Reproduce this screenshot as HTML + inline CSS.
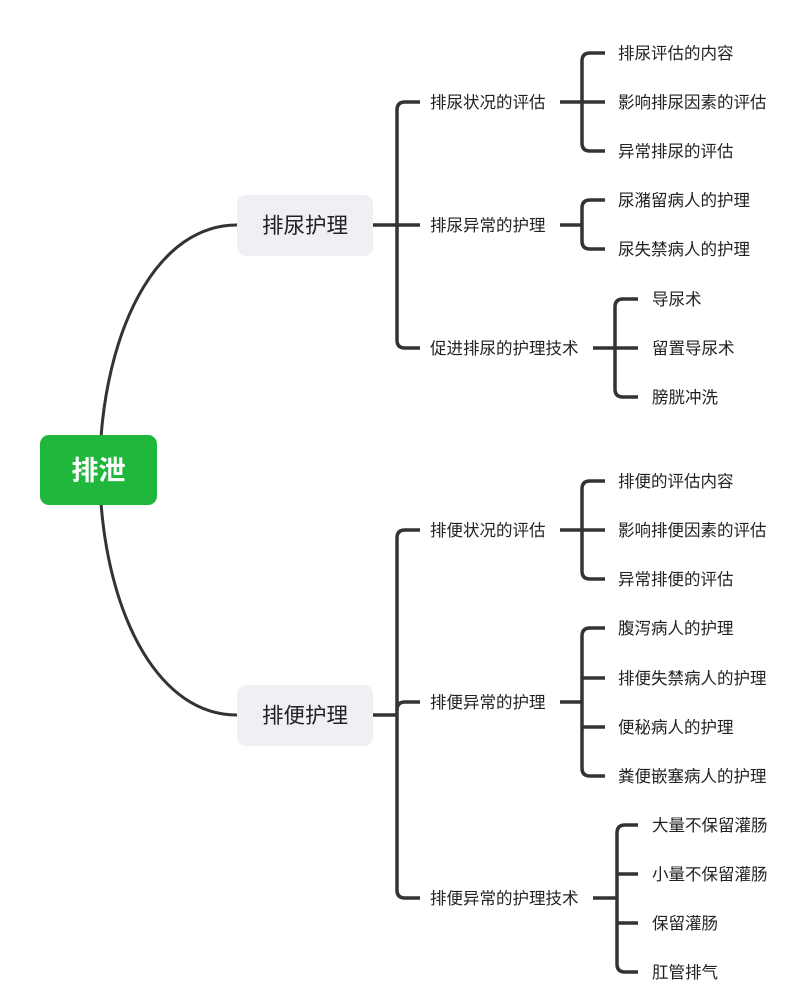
<!DOCTYPE html>
<html><head><meta charset="utf-8"><style>
html,body{margin:0;padding:0;background:#fff;}
svg{display:block;}
text{font-family:"Liberation Sans","Noto Sans CJK SC",sans-serif;fill:#222;}
</style></head><body>
<svg width="811" height="1006" viewBox="0 0 811 1006" xmlns="http://www.w3.org/2000/svg">
<g fill="none" stroke="#333" stroke-width="3.5" stroke-linecap="butt">
<path d="M101,437 C110,320 160,225 237,225" stroke-width="3"/>
<path d="M101,503 C110,620 160,715 237,715" stroke-width="3"/>
<path d="M373,225 H397"/>
<path d="M420,102 H405 Q397,102 397,110 V340 Q397,348 405,348 H420"/>
<path d="M397,225 H420"/>
<path d="M373,715 H397"/>
<path d="M420,530 H405 Q397,530 397,538 V890 Q397,898 405,898 H420"/>
<path d="M397,710 Q397,702 405,702 H420"/>
<path d="M560,102 H605"/>
<path d="M605,53 H590 Q582,53 582,61 V143 Q582,151 590,151 H605"/>
<path d="M560,225 H582"/>
<path d="M605,200 H590 Q582,200 582,208 V241 Q582,249 590,249 H605"/>
<path d="M593,348 H638"/>
<path d="M638,299 H623 Q615,299 615,307 V389 Q615,397 623,397 H638"/>
<path d="M560,530 H605"/>
<path d="M605,481 H590 Q582,481 582,489 V571 Q582,579 590,579 H605"/>
<path d="M560,702 H582"/>
<path d="M605,628 H590 Q582,628 582,636 V768 Q582,776 590,776 H605"/>
<path d="M582,678 H605"/>
<path d="M582,727 H605"/>
<path d="M593,898 H617"/>
<path d="M638,825 H625 Q617,825 617,833 V964 Q617,972 625,972 H638"/>
<path d="M617,874 H638"/>
<path d="M617,923 H638"/>
</g>
<rect x="40" y="435" width="117" height="70" rx="9" fill="#1fb83d"/>
<text x="98.5" y="480" text-anchor="middle" font-size="27" font-weight="bold" style="fill:#fff">排泄</text>
<rect x="237" y="195" width="136" height="61" rx="9" fill="#eef0f4"/>
<text x="305" y="233" text-anchor="middle" font-size="21.5">排尿护理</text>
<rect x="237" y="685" width="136" height="61" rx="9" fill="#eef0f4"/>
<text x="305" y="723" text-anchor="middle" font-size="21.5">排便护理</text>
<g font-size="16.5">
<text x="430" y="108">排尿状况的评估</text>
<text x="430" y="231">排尿异常的护理</text>
<text x="430" y="354">促进排尿的护理技术</text>
<text x="618" y="59">排尿评估的内容</text>
<text x="618" y="108">影响排尿因素的评估</text>
<text x="618" y="157">异常排尿的评估</text>
<text x="618" y="206">尿潴留病人的护理</text>
<text x="618" y="255">尿失禁病人的护理</text>
<text x="652" y="305">导尿术</text>
<text x="652" y="354">留置导尿术</text>
<text x="652" y="403">膀胱冲洗</text>
<text x="430" y="536">排便状况的评估</text>
<text x="430" y="708">排便异常的护理</text>
<text x="430" y="904">排便异常的护理技术</text>
<text x="618" y="487">排便的评估内容</text>
<text x="618" y="536">影响排便因素的评估</text>
<text x="618" y="585">异常排便的评估</text>
<text x="618" y="634">腹泻病人的护理</text>
<text x="618" y="684">排便失禁病人的护理</text>
<text x="618" y="733">便秘病人的护理</text>
<text x="618" y="782">粪便嵌塞病人的护理</text>
<text x="652" y="831">大量不保留灌肠</text>
<text x="652" y="880">小量不保留灌肠</text>
<text x="652" y="929">保留灌肠</text>
<text x="652" y="978">肛管排气</text>
</g>
</svg>
</body></html>
